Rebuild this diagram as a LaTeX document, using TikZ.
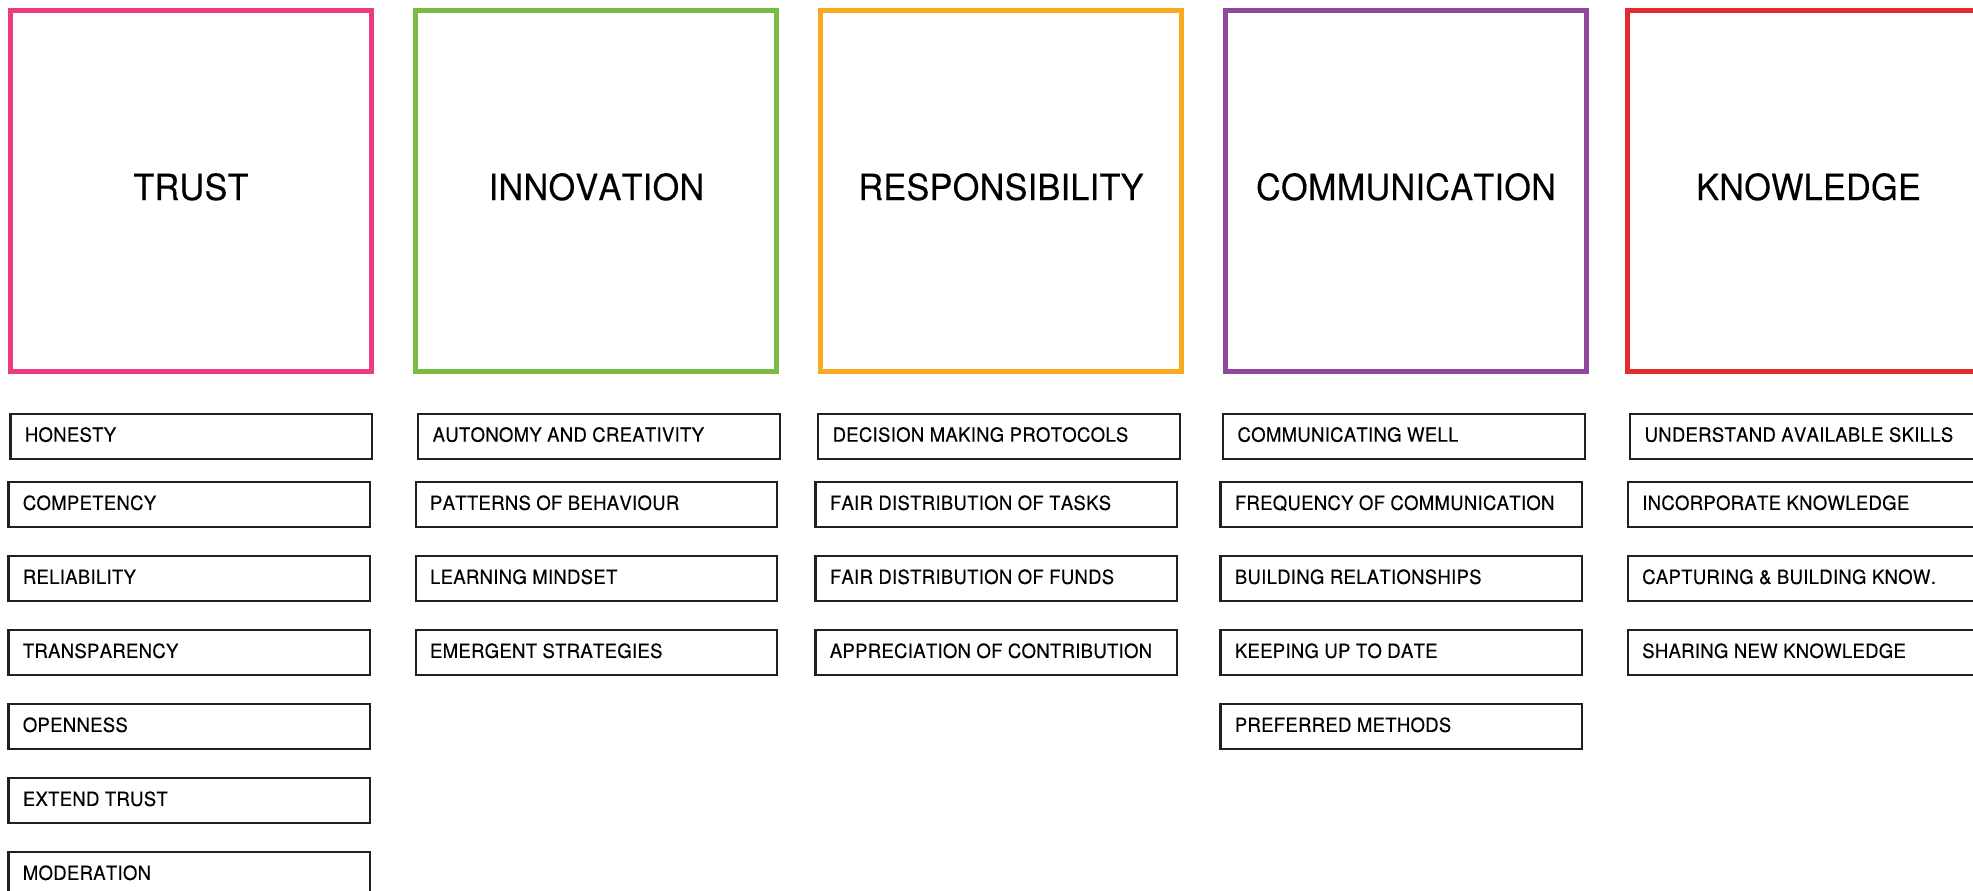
\documentclass[tikz,border=0pt]{standalone}
\usepackage{fontspec}
\newfontfamily\hfont{TeX Gyre Heros}[FakeStretch=0.95,Kerning=Off,LetterSpace=0.8,FakeBold=0.25]
\newfontfamily\lfont{TeX Gyre Heros}[FakeStretch=0.95,Kerning=Off,LetterSpace=1.5,FakeBold=0.25]
\definecolor{cpink}{RGB}{232,61,126}
\definecolor{cgreen}{RGB}{122,188,67}
\definecolor{corange}{RGB}{247,169,33}
\definecolor{cpurple}{RGB}{142,73,157}
\definecolor{cred}{RGB}{228,42,44}
\definecolor{cdark}{RGB}{35,31,32}
\tikzset{
  bigbox/.style={draw, line width=5pt, rectangle, minimum width=361pt, minimum height=361pt, inner sep=0pt, outer sep=0pt},
  titletext/.style={inner sep=0pt, outer sep=0pt, font=\hfont\fontsize{36}{40}\selectfont, text=black},
  subbox/.style={draw=cdark, line width=2.2pt, rectangle, minimum width=361.5pt, minimum height=45pt, inner sep=0pt, outer sep=0pt},
  sublbl/.style={inner sep=0pt, outer sep=0pt, font=\lfont\fontsize{19.5}{22}\selectfont, text=black}
}
\newcommand\mysub[4]{%
  \node[subbox] (#1) at (#2,#3) {};
  \node[sublbl, anchor=base west] (#1-t) at ([xshift=14.4pt,yshift=-27.9pt]#1.north west) {#4};
}
\begin{document}
\begin{tikzpicture}[x=1pt,y=-1pt]
\useasboundingbox (0,0) rectangle (1973,891);
\fill[white] (0,0) rectangle (1973,891);
\clip (0,0) rectangle (1973,891);
% big boxes
\node[bigbox, draw=cpink]   (trust)  at (191,191) {};
\node[bigbox, draw=cgreen]  (innov)  at (596,191) {};
\node[bigbox, draw=corange] (resp)   at (1001,191) {};
\node[bigbox, draw=cpurple] (comm)   at (1406,191) {};
\node[bigbox, draw=cred]    (know)   at (1808,191) {};
\node[titletext, anchor=base] (trust-t) at (191,200) {TRUST};
\node[titletext, anchor=base] (innov-t) at (596.5,200) {INNOVATION};
\node[titletext, anchor=base] (resp-t)  at (1001,200) {RESPONSIBILITY};
\node[titletext, anchor=base] (comm-t)  at (1406,200) {COMMUNICATION};
\node[titletext, anchor=base] (know-t)  at (1808.5,200) {KNOWLEDGE};
% trust column
\mysub{t1}{191.2}{436.3}{HONESTY}
\mysub{t2}{189.2}{504.5}{COMPETENCY}
\mysub{t3}{189.2}{578.5}{RELIABILITY}
\mysub{t4}{189.2}{652.5}{TRANSPARENCY}
\mysub{t5}{189.2}{726.5}{OPENNESS}
\mysub{t6}{189.2}{800.5}{EXTEND TRUST}
\mysub{t7}{189.2}{874.5}{MODERATION}
% innovation column
\mysub{i1}{599}{436.3}{AUTONOMY AND CREATIVITY}
\mysub{i2}{596.4}{504.5}{PATTERNS OF BEHAVIOUR}
\mysub{i3}{596.4}{578.5}{LEARNING MINDSET}
\mysub{i4}{596.4}{652.5}{EMERGENT STRATEGIES}
% responsibility column
\mysub{r1}{999}{436.3}{DECISION MAKING PROTOCOLS}
\mysub{r2}{996.2}{504.5}{FAIR DISTRIBUTION OF TASKS}
\mysub{r3}{996.2}{578.5}{FAIR DISTRIBUTION OF FUNDS}
\mysub{r4}{996.2}{652.5}{APPRECIATION OF CONTRIBUTION}
% communication column
\mysub{c1}{1403.9}{436.3}{COMMUNICATING WELL}
\mysub{c2}{1401.2}{504.5}{FREQUENCY OF COMMUNICATION}
\mysub{c3}{1401.2}{578.5}{BUILDING RELATIONSHIPS}
\mysub{c4}{1401.2}{652.5}{KEEPING UP TO DATE}
\mysub{c5}{1401.2}{726.5}{PREFERRED METHODS}
% knowledge column
\mysub{k1}{1810.9}{436.3}{UNDERSTAND AVAILABLE SKILLS}
\mysub{k2}{1808.6}{504.5}{INCORPORATE KNOWLEDGE}
\mysub{k3}{1808.6}{578.5}{CAPTURING \& BUILDING KNOW.}
\mysub{k4}{1808.6}{652.5}{SHARING NEW KNOWLEDGE}
\end{tikzpicture}
\end{document}
